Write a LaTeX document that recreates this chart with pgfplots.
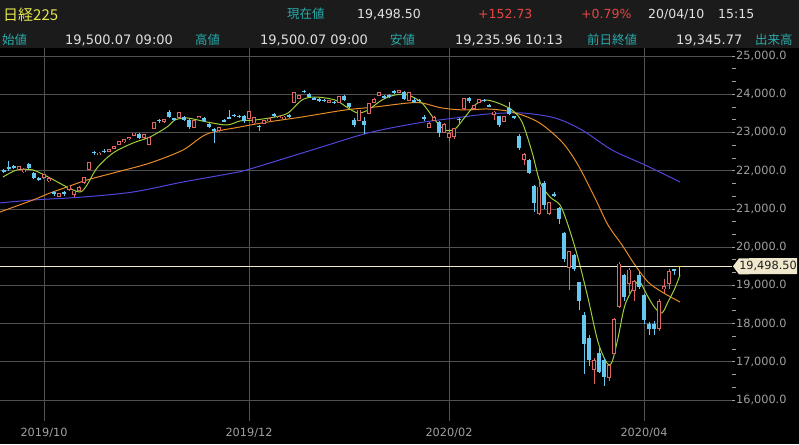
\documentclass[border=0pt]{standalone}
\usepackage{pgfplots}
\pgfplotsset{compat=1.18}
\usepackage{pgfplotstable}
\usepackage{fontspec}
\setmainfont{DejaVu Sans}
\newfontfamily\cjk{Noto Sans CJK JP}

\definecolor{upred}{RGB}{226,100,100}
\definecolor{dnblue}{RGB}{100,200,240}
\definecolor{ma5}{RGB}{160,205,60}
\definecolor{ma25}{RGB}{230,140,40}
\definecolor{ma75}{RGB}{80,70,220}
\definecolor{gridc}{RGB}{80,80,80}
\definecolor{lbl}{RGB}{40,170,170}
\definecolor{ttl}{RGB}{230,230,80}
\definecolor{num}{RGB}{225,225,225}
\definecolor{chg}{RGB}{230,70,70}
\definecolor{hdr}{RGB}{27,27,27}
\definecolor{cur}{RGB}{240,232,205}
\definecolor{tickc}{RGB}{160,160,160}
\definecolor{last}{RGB}{230,220,60}

% day index (0 = 2019/09/18), open, high, low, close
\pgfplotstableread{
i o h l c
3 22060 22130 22030 22098
4 21980 22060 21950 22020
8 21840 21900 21770 21885
9 21750 21830 21700 21778
11 21340 21420 21300 21400
13 21530 21600 21480 21587
14 21400 21470 21320 21456
15 21500 21600 21460 21551
16 21700 21800 21660 21798
17 22040 22220 22030 22207
19 22440 22490 22400 22451
21 22520 22570 22490 22548
22 22600 22650 22560 22625
23 22700 22760 22680 22750
24 22770 22810 22730 22799
25 22840 22890 22810 22867
26 22930 22990 22900 22974
28 22870 22950 22840 22927
29 22700 22880 22690 22850
30 23120 23260 23100 23251
32 23300 23350 23260 23330
35 23400 23540 23370 23520
38 23150 23320 23130 23303
39 23390 23440 23370 23416
43 23060 23130 23000 23112
49 23380 23560 23360 23529
50 23260 23400 23230 23379
52 23250 23330 23220 23300
53 23320 23380 23290 23354
55 23390 23430 23370 23410
56 23370 23420 23340 23391
58 23800 24050 23790 24023
59 23900 23980 23880 23952
65 23800 23850 23780 23830
67 23800 23940 23790 23924
71 23320 23600 23300 23575
73 23500 23760 23480 23740
74 23800 23900 23770 23850
75 23990 24060 23960 24025
79 24060 24100 24050 24083
81 23850 24050 23830 24031
85 23150 23270 23120 23216
86 23330 23420 23300 23379
88 23000 23260 22980 23205
89 22870 23080 22780 22972
90 22900 23100 22830 23085
92 23640 23900 23600 23873
94 23650 23700 23600 23686
95 23800 23880 23770 23861
98 23480 23560 23330 23523
100 23290 23420 23270 23400
104 22300 22450 22150 22400
107 20890 21720 20834 21560
109 20890 21160 20850 21150
113 19480 19900 18891 19867
118 16800 17100 16420 17011
121 16600 16950 16500 16887
122 17230 18150 17200 18092
123 18460 19600 18400 19546
125 19060 19450 18760 19389
126 18880 19150 18580 19084
131 17880 18650 17800 18576
132 18920 19160 18800 18950
133 19060 19420 18900 19353
}\up

\pgfplotstableread{
i o h l c
0 22020 22050 21930 21970
1 22100 22255 22000 22044
2 22130 22150 22040 22079
5 22180 22200 22040 22070
6 21940 21960 21790 21820
7 21820 21840 21720 21756
10 21450 21470 21330 21390
12 21450 21480 21350 21400
18 22500 22520 22420 22472
20 22520 22560 22460 22492
27 22970 22990 22830 22850
31 23330 23340 23250 23303
33 23540 23590 23370 23391
34 23370 23390 23300 23331
36 23400 23420 23290 23319
37 23320 23340 23100 23141
40 23390 23410 23270 23292
41 23230 23260 23130 23148
42 23100 23120 22727 23038
44 23330 23350 23270 23292
45 23390 23600 23350 23373
46 23450 23480 23400 23437
47 23440 23460 23380 23409
48 23440 23460 23250 23293
51 23180 23200 23040 23135
54 23480 23500 23400 23430
57 23460 23480 23380 23424
60 24090 24100 24040 24066
61 24000 24020 23920 23934
62 23900 23930 23840 23864
63 23880 23900 23800 23816
64 23860 23870 23810 23821
66 23800 23810 23760 23782
68 23960 23970 23810 23837
69 23770 23780 23640 23657
70 23320 23370 23150 23204
72 23300 23400 22951 23204
76 23960 23990 23880 23917
77 23980 24000 23900 23933
78 24080 24120 24020 24041
80 24050 24080 23850 23865
82 23860 23900 23780 23795
83 23850 23870 23790 23827
84 23400 23450 23300 23343
87 23280 23300 22890 22977
91 23360 23380 23250 23320
93 23900 23920 23780 23828
96 23850 23880 23800 23828
97 23720 23740 23660 23688
99 23420 23440 23150 23194
101 23650 23800 23460 23479
102 23420 23440 23350 23386
103 22900 22950 22550 22605
105 22280 22300 21900 21948
106 21600 21630 20916 21142
108 21680 21740 21000 21100
110 21400 21450 21300 21340
111 21020 21050 20600 20749
112 20370 20400 19620 19698
114 19800 19820 19380 19416
115 19090 19100 18350 18600
116 18220 18300 16690 17470
117 17620 17700 16900 17050
119 17230 17350 16700 16740
120 17050 17100 16358 16600
124 19270 19300 18600 18690
127 19270 19340 18900 18960
128 18750 18780 17990 18090
129 17990 18030 17710 17860
130 17990 18060 17710 17860
134 19420 19440 19260 19380
}\down

\pgfplotstableread{
i o h l c
135 19500.07 19500.07 19235.96 19498.5
}\lastday

\pgfplotsset{
  wick/.style={draw=none, forget plot,
    error bars/.cd, y dir=both, y explicit, error mark=none,
    error bar style={draw=#1, line width=1pt, solid}},
  body/.style 2 args={draw=none, forget plot,
    error bars/.cd, y dir=both, y explicit, error mark=none,
    error bar style={draw=#1, line width=#2, line cap=butt, solid}},
}

\begin{document}
\begin{tikzpicture}
\fill[black] (0pt,0pt) rectangle (799pt,444pt);
\fill[hdr] (0pt,396pt) rectangle (799pt,444pt);
\useasboundingbox (0pt,0pt) rectangle (799pt,444pt);

\begin{axis}[
  at={(0pt,23pt)}, anchor=south west,
  scale only axis, width=732pt, height=373pt,
  xmin=-0.8, xmax=145.6, ymin=15452, ymax=25209,
  scaled y ticks=false,
  axis line style={draw=none},
  xtick={8,49,89,128},
  xticklabels={2019/10,2019/12,2020/02,2020/04},
  x tick style={draw=none},
  xmajorgrids, ymajorgrids,
  grid style={gridc, line width=0.8pt},
  ytick={16000,17000,...,25000},
  yticklabels={{16,000.0},{17,000.0},{18,000.0},{19,000.0},{20,000.0},{21,000.0},{22,000.0},{23,000.0},{24,000.0},{25,000.0}},
  yticklabel pos=right, ytick pos=right,
  minor y tick num=2, tick align=outside,
  major tick length=3pt, minor tick length=4pt,
  y tick style={tickc, line width=0.8pt},
  tick label style={font=\fontsize{11.3}{13}\selectfont, text=tickc},
  yticklabel style={anchor=west, inner sep=0pt, xshift=1pt},
  xticklabel style={anchor=north, inner sep=0pt, yshift=-4pt},
]
% moving averages
\addplot[ma75, line width=1pt, smooth] coordinates {
(-0.8,21155) (5.8,21233) (15.8,21311) (25.8,21442) (35.8,21704) (45.8,21939)
(49.2,22044) (61.6,22541) (72.8,22986) (82.8,23247) (90.2,23378) (96.8,23483)
(103.6,23509) (110.2,23378) (115.6,23064) (121.6,22541) (128.2,22149) (135.2,21704)};
\addplot[ma25, line width=1pt, smooth] coordinates {
(-0.8,20919) (5.8,21233) (9.2,21416) (12.6,21573) (16.6,21756) (22.6,21965)
(29.2,22201) (35.8,22541) (40.6,22960) (47.2,23143) (52.8,23274) (59.6,23404)
(68.2,23587) (74.2,23666) (80.8,23770) (83.6,23770) (87.6,23640) (92.2,23587)
(96.8,23613) (101.6,23535) (106.8,23274) (111.6,22750) (114.8,22149) (118.2,21285)
(120.8,20579) (123.6,20056) (126.2,19532) (128.8,19088) (131.6,18826) (135.2,18564)};
\addplot[ma5, line width=1pt, smooth] coordinates {
(-0.2,21835) (2.6,22018) (5.8,22018) (9.2,21809) (12.6,21573) (15.2,21442)
(16.6,21625) (18.6,22070) (21.8,22462) (25.8,22724) (29.2,22881) (32.6,23143)
(34.2,23326) (36.6,23378) (40.6,23274) (44.6,23195) (47.2,23300) (50.2,23326)
(54.2,23404) (56.8,23509) (59.6,23849) (62.2,23927) (66.2,23849) (68.8,23640)
(70.8,23509) (72.8,23587) (75.6,23849) (78.2,23980) (80.8,23980) (83.6,23770)
(86.2,23326) (88.2,23064) (90.2,23090) (92.2,23404) (94.2,23718) (96.2,23849)
(98.8,23770) (101.6,23587) (103.6,23274) (105.6,22489) (107.2,21704) (109.2,21311)
(111.2,21102) (112.8,20579) (114.8,19716) (116.8,18669) (118.8,17518) (120.6,16969)
(121.6,16995) (122.8,17623) (124.2,18486) (126.2,19009) (127.2,19088) (128.6,18748)
(130.2,18408) (131.6,18277) (132.8,18565) (134.2,18931) (135.2,19271)};

% current price line
\addplot[cur, line width=1pt] coordinates {(-0.8,19498.5) (145.6,19498.5)};
\coordinate (curR) at (axis cs:145.6,19498.5);

% down candles (filled blue)
\addplot[wick=dnblue] table[x=i, y=c,
  y error plus expr=\thisrow{h}-\thisrow{c},
  y error minus expr=\thisrow{c}-\thisrow{l}] {\down};
\addplot[body={dnblue}{4.5pt}] table[x=i,
  y expr=(\thisrow{o}+\thisrow{c})/2,
  y error expr={max((\thisrow{o}-\thisrow{c})/2,13)}] {\down};

% up candles (hollow red)
\addplot[wick=upred] table[x=i, y=c,
  y error plus expr=\thisrow{h}-\thisrow{c},
  y error minus expr=\thisrow{c}-\thisrow{l}] {\up};
\addplot[body={upred}{4.7pt}] table[x=i,
  y expr=(\thisrow{o}+\thisrow{c})/2,
  y error expr=(\thisrow{c}-\thisrow{o})/2+24] {\up};
\addplot[body={black}{2.8pt}] table[x=i,
  y expr=(\thisrow{o}+\thisrow{c})/2,
  y error expr=(\thisrow{c}-\thisrow{o})/2] {\up};

% latest session
\addplot[wick=last] table[x=i, y=c,
  y error plus expr=\thisrow{h}-\thisrow{c},
  y error minus expr=\thisrow{c}-\thisrow{l}] {\lastday};
\addplot[body={last}{4.5pt}] table[x=i,
  y expr=(\thisrow{o}+\thisrow{c})/2,
  y error expr=13] {\lastday};
\end{axis}

% current price tag
\fill[cur] ([xshift=1pt]curR) -- ++(6pt,8pt) -- (797pt,186pt) -- (797pt,170pt) -- ([xshift=7pt,yshift=-8pt]curR) -- cycle;
\node[anchor=center, text={rgb,255:red,30;green,30;blue,30}, font=\fontsize{11.3}{13}\selectfont, inner sep=0pt]
  at ([xshift=36pt]curR) {19,498.50};

% header
\begin{scope}[every node/.style={inner sep=0pt, anchor=base west}]
\node[text=ttl, font=\cjk\fontsize{15}{17}\selectfont] at (3pt,423pt) {日経225};
\node[text=lbl, font=\cjk\fontsize{12.5}{14}\selectfont] at (287pt,425pt) {現在値};
\node[text=num, font=\fontsize{12.5}{14}\selectfont] at (357pt,425pt) {19,498.50};
\node[text=chg, font=\fontsize{12.5}{14}\selectfont] at (478pt,425pt) {+152.73};
\node[text=chg, font=\fontsize{12.5}{14}\selectfont] at (581pt,425pt) {+0.79\%};
\node[text=num, font=\fontsize{12.5}{14}\selectfont] at (648pt,425pt) {20/04/10};
\node[text=num, font=\fontsize{12.5}{14}\selectfont] at (718pt,425pt) {15:15};

\node[text=lbl, font=\cjk\fontsize{12.5}{14}\selectfont] at (2pt,399pt) {始値};
\node[text=num, font=\fontsize{13}{15}\selectfont] at (65pt,399pt) {19,500.07 09:00};
\node[text=lbl, font=\cjk\fontsize{12.5}{14}\selectfont] at (195pt,399pt) {高値};
\node[text=num, font=\fontsize{13}{15}\selectfont] at (260pt,399pt) {19,500.07 09:00};
\node[text=lbl, font=\cjk\fontsize{12.5}{14}\selectfont] at (390pt,399pt) {安値};
\node[text=num, font=\fontsize{13}{15}\selectfont] at (455pt,399pt) {19,235.96 10:13};
\node[text=lbl, font=\cjk\fontsize{12.5}{14}\selectfont] at (587pt,399pt) {前日終値};
\node[text=num, font=\fontsize{13}{15}\selectfont] at (676pt,399pt) {19,345.77};
\node[text=lbl, font=\cjk\fontsize{12.5}{14}\selectfont] at (755pt,399pt) {出来高};
\end{scope}
\end{tikzpicture}
\end{document}
